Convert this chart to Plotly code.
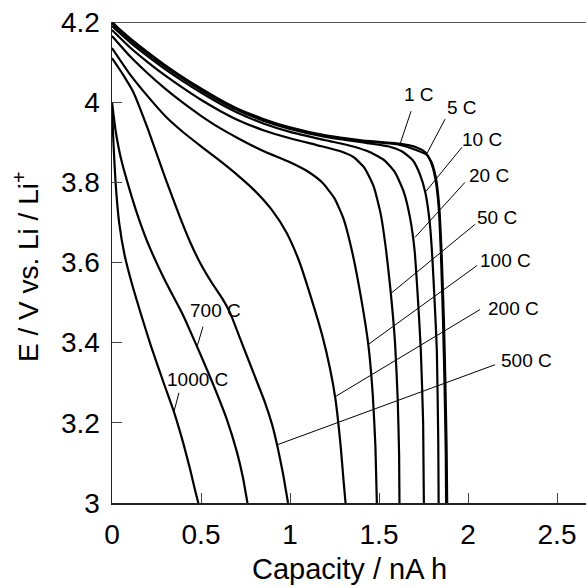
import plotly.graph_objects as go

# ---- data ----
rates = ["1 C", "5 C", "10 C", "20 C", "50 C", "100 C", "200 C", "500 C", "700 C", "1000 C"]

cap_1C = [0, 0.05, 0.1, 0.2, 0.3, 0.4, 0.5, 0.6, 0.7, 0.85, 1.0, 1.2, 1.4, 1.6, 1.712, 1.76, 1.795, 1.82, 1.838, 1.852, 1.865, 1.873, 1.88, 1.883]
v_1C = [4.2, 4.179, 4.16, 4.125, 4.092, 4.062, 4.034, 4.008, 3.985, 3.958, 3.937, 3.917, 3.905, 3.897, 3.887, 3.875, 3.85, 3.81, 3.74, 3.62, 3.45, 3.3, 3.13, 3.0]

cap_5C = [0, 0.05, 0.1, 0.2, 0.3, 0.4, 0.5, 0.6, 0.7, 0.85, 1.0, 1.2, 1.4, 1.6, 1.712, 1.77, 1.80, 1.82, 1.835, 1.848, 1.86, 1.868, 1.875, 1.877]
v_5C = [4.2, 4.177, 4.158, 4.123, 4.09, 4.06, 4.032, 4.006, 3.983, 3.956, 3.935, 3.915, 3.903, 3.895, 3.88, 3.868, 3.84, 3.80, 3.74, 3.62, 3.45, 3.3, 3.13, 3.0]

cap_10C = [0, 0.1, 0.2, 0.3, 0.4, 0.5, 0.6, 0.7, 0.85, 1.0, 1.2, 1.4, 1.55, 1.63, 1.69, 1.73, 1.76, 1.785, 1.80, 1.815, 1.825, 1.833, 1.835]
v_10C = [4.196, 4.156, 4.121, 4.088, 4.058, 4.03, 4.004, 3.981, 3.954, 3.933, 3.913, 3.9, 3.89, 3.877, 3.855, 3.82, 3.775, 3.70, 3.61, 3.48, 3.38, 3.15, 3.0]

cap_20C = [0, 0.1, 0.2, 0.3, 0.4, 0.5, 0.6, 0.7, 0.85, 1.0, 1.2, 1.35, 1.45, 1.53, 1.59, 1.64, 1.675, 1.70, 1.72, 1.735, 1.748, 1.752]
v_20C = [4.19, 4.15, 4.115, 4.082, 4.052, 4.024, 3.998, 3.975, 3.947, 3.926, 3.905, 3.89, 3.875, 3.855, 3.825, 3.775, 3.71, 3.63, 3.50, 3.38, 3.2, 3.0]

cap_50C = [0, 0.1, 0.2, 0.3, 0.4, 0.5, 0.6, 0.7, 0.85, 1.0, 1.15, 1.28, 1.36, 1.42, 1.47, 1.51, 1.54, 1.565, 1.59, 1.605, 1.613, 1.615]
v_50C = [4.18, 4.137, 4.10, 4.066, 4.035, 4.006, 3.98, 3.957, 3.93, 3.91, 3.893, 3.878, 3.862, 3.835, 3.79, 3.72, 3.63, 3.53, 3.40, 3.26, 3.12, 3.0]

cap_100C = [0, 0.1, 0.2, 0.3, 0.4, 0.5, 0.6, 0.7, 0.85, 1.0, 1.1, 1.18, 1.25, 1.30, 1.35, 1.40, 1.44, 1.465, 1.48, 1.488]
v_100C = [4.165, 4.115, 4.072, 4.033, 3.998, 3.966, 3.937, 3.912, 3.878, 3.85, 3.827, 3.80, 3.76, 3.71, 3.625, 3.51, 3.395, 3.27, 3.14, 3.0]

cap_200C = [0, 0.1, 0.2, 0.3, 0.4, 0.5, 0.6, 0.7, 0.8, 0.9, 0.98, 1.05, 1.12, 1.18, 1.225, 1.255, 1.285, 1.30, 1.312]
v_200C = [4.135, 4.07, 4.015, 3.965, 3.925, 3.89, 3.856, 3.82, 3.78, 3.73, 3.675, 3.605, 3.51, 3.42, 3.335, 3.26, 3.14, 3.06, 3.0]

cap_500C = [0, 0.06, 0.12, 0.2, 0.3, 0.38, 0.44, 0.5, 0.56, 0.62, 0.663, 0.72, 0.79, 0.86, 0.90, 0.93, 0.96, 0.989]
v_500C = [4.11, 4.07, 4.025, 3.935, 3.81, 3.715, 3.65, 3.595, 3.55, 3.51, 3.475, 3.41, 3.33, 3.25, 3.195, 3.14, 3.075, 3.0]

cap_700C = [0, 0.02, 0.05, 0.1, 0.15, 0.2, 0.3, 0.4, 0.478, 0.56, 0.646, 0.70, 0.735, 0.761]
v_700C = [4.0, 3.93, 3.86, 3.78, 3.71, 3.65, 3.553, 3.468, 3.39, 3.305, 3.2075, 3.13, 3.065, 3.0]

cap_1000C = [0, 0.008, 0.02, 0.04, 0.07, 0.11, 0.16, 0.22, 0.29, 0.348, 0.40, 0.44, 0.465, 0.485]
v_1000C = [3.99, 3.90, 3.80, 3.70, 3.62, 3.55, 3.475, 3.39, 3.30, 3.2275, 3.15, 3.082, 3.035, 3.0]

caps = [cap_1C, cap_5C, cap_10C, cap_20C, cap_50C, cap_100C, cap_200C, cap_500C, cap_700C, cap_1000C]
volts = [v_1C, v_5C, v_10C, v_20C, v_50C, v_100C, v_200C, v_500C, v_700C, v_1000C]

x_ticks = [0, 0.5, 1, 1.5, 2, 2.5]
x_ticklabels = ["0", "0.5", "1", "1.5", "2", "2.5"]
y_ticks = [3, 3.2, 3.4, 3.6, 3.8, 4, 4.2]
y_ticklabels = ["3", "3.2", "3.4", "3.6", "3.8", "4", "4.2"]

# label placement (text centre, leader start, leader end) in data units
label_text_pos = [(1.725, 4.02), (1.966, 3.9875), (2.079, 3.9075), (2.118, 3.8175), (2.163, 3.7125),
                  (2.213, 3.605), (2.258, 3.485), (2.331, 3.355), (0.579, 3.48), (0.483, 3.3075)]
leader_start = [(1.680, 3.9775), (1.871, 3.9575), (1.966, 3.8875), (1.983, 3.80), (2.039, 3.695),
                (2.051, 3.5925), (2.067, 3.4825), (2.152, 3.345), (0.511, 3.44), (0.376, 3.275)]
leader_end = [(1.618, 3.895), (1.770, 3.8725), (1.764, 3.7775), (1.702, 3.6625), (1.573, 3.525),
              (1.438, 3.395), (1.253, 3.265), (0.927, 3.145), (0.478, 3.39), (0.348, 3.2275)]

FONT = "Arial, Liberation Sans, sans-serif"

fig = go.Figure()
for name, c, v in zip(rates, caps, volts):
    fig.add_trace(go.Scatter(x=c, y=v, mode="lines", name=name,
                             line=dict(color="black", width=2.2, shape="spline", smoothing=0.5),
                             showlegend=False, hoverinfo="skip"))

for s, e in zip(leader_start, leader_end):
    fig.add_shape(type="line", xref="x", yref="y", x0=s[0], y0=s[1], x1=e[0], y1=e[1],
                  line=dict(color="black", width=1))

for name, p in zip(rates, label_text_pos):
    fig.add_annotation(x=p[0], y=p[1], xref="x", yref="y", text=name, showarrow=False,
                       font=dict(family=FONT, size=19, color="black"),
                       xanchor="center", yanchor="middle")

# top frame line
fig.add_shape(type="line", xref="paper", yref="y", x0=0, x1=1, y0=4.2, y1=4.2,
              line=dict(color="#222", width=1.5))

# axis titles
fig.add_annotation(x=0.5, y=-0.138, xref="paper", yref="paper", text="Capacity / nA h",
                   showarrow=False, font=dict(family=FONT, size=29, color="black"),
                   xanchor="center", yanchor="middle")
fig.add_annotation(x=-0.18, y=0.49, xref="paper", yref="paper", text="E / V vs. Li / Li<sup>+</sup>",
                   showarrow=False, textangle=-90, font=dict(family=FONT, size=28, color="black"),
                   xanchor="center", yanchor="middle")

fig.update_layout(
    width=586, height=587,
    margin=dict(l=112, r=0, t=22, b=84),
    paper_bgcolor="white", plot_bgcolor="white",
    xaxis=dict(range=[0, 474 / 178], tickvals=x_ticks, ticktext=x_ticklabels,
               ticks="inside", ticklen=10, tickwidth=1, tickcolor="#444",
               showline=True, linecolor="#222", linewidth=1.5, showgrid=False, zeroline=False,
               ticklabelstandoff=6,
               tickfont=dict(family=FONT, size=28, color="black")),
    yaxis=dict(range=[3, 4.2], tickvals=y_ticks, ticktext=y_ticklabels,
               ticks="inside", ticklen=10, tickwidth=1, tickcolor="#444",
               showline=True, linecolor="#222", linewidth=1.5, showgrid=False, zeroline=False,
               ticklabelstandoff=5,
               tickfont=dict(family=FONT, size=28, color="black")),
)

fig.write_html("out.html",
               config={"displayModeBar": False, "staticPlot": True},
               post_script="document.body.style.margin='0';document.body.style.padding='0';"
                           "document.documentElement.style.overflow='hidden';")
